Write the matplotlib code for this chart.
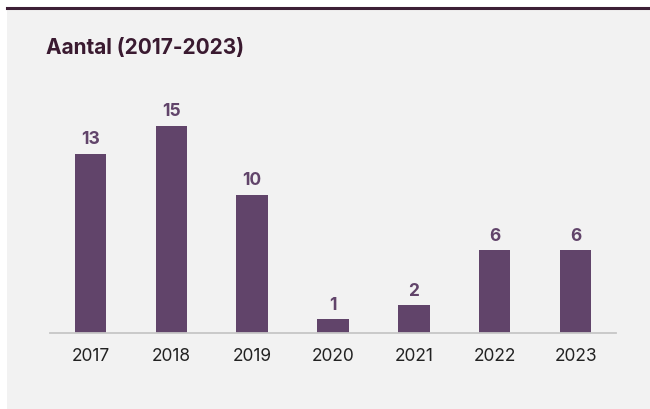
import matplotlib
matplotlib.use("Agg")
import matplotlib.pyplot as plt
from matplotlib.patches import Rectangle
from matplotlib.lines import Line2D

years = ["2017", "2018", "2019", "2020", "2021", "2022", "2023"]
values = [13, 15, 10, 1, 2, 6, 6]
title = "Aantal (2017-2023)"

W, H = 650, 409
fig = plt.figure(figsize=(W / 100, H / 100), dpi=100)
fig.patch.set_facecolor("white")

# grey panel and top rule
fig.add_artist(Rectangle((7 / W, 0), 1 - 7 / W, 1 - 9 / H, transform=fig.transFigure,
                         facecolor="#f2f2f2", edgecolor="none", zorder=0))
fig.add_artist(Line2D([7 / W, 1], [1 - 7.5 / H, 1 - 7.5 / H], transform=fig.transFigure,
                      color="#3d1f36", linewidth=2.2, zorder=1))

ax = fig.add_axes([50 / W, 76 / H, 566 / W, (333 - 126) / H])
ax.set_facecolor("none")
bar_color = "#61446a"
x = range(len(years))
bars = ax.bar(x, values, width=0.39, color=bar_color, zorder=2)
ax.set_xlim(-0.5, len(years) - 0.5)
ax.set_ylim(0, 15)

for b, v in zip(bars, values):
    ax.annotate(str(v), (b.get_x() + b.get_width() / 2, b.get_height()),
                xytext=(0, 4), textcoords="offset points", ha="center", va="bottom",
                fontsize=12.5, fontweight="bold", color=bar_color, family="Inter",
                annotation_clip=False)

ax.set_xticks(list(x))
ax.set_xticklabels(years, fontsize=12.5, color="#222222", family="Inter")
ax.tick_params(axis="x", length=0, pad=10.5)
ax.set_yticks([])
for s in ["top", "right", "left"]:
    ax.spines[s].set_visible(False)
ax.spines["bottom"].set_color("#c6c6c6")
ax.spines["bottom"].set_linewidth(1.3)

fig.text(46 / W, 1 - 48 / H, title, fontsize=15, fontweight="bold", color="#3a1a30",
         family="Inter", ha="left", va="center")

fig.savefig("out.png", dpi=100)
